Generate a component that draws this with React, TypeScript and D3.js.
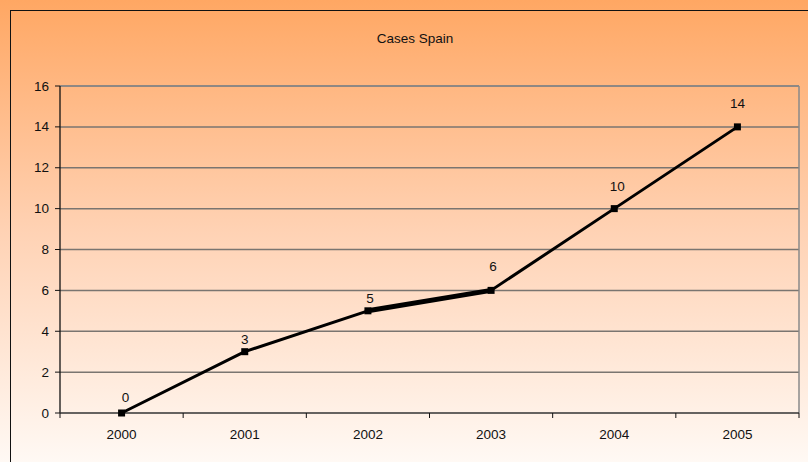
import React from "react";
import * as d3 from "d3";

const categories = ["2000", "2001", "2002", "2003", "2004", "2005"];
const cases = [0, 3, 5, 6, 10, 14];
const yTicks = [0, 2, 4, 6, 8, 10, 12, 14, 16];
const title = "Cases Spain";

const W = 808;
const H = 462;
const plot = { left: 60, top: 86, right: 799, bottom: 413 };
const font = "'Liberation Sans', Arial, Helvetica, sans-serif";
const FS = 13.5;
// label placement above each point (px), as seen in the reference
const labelLift = [11, 8, 8, 19, 18, 19];
const labelShift = [4, 0, 2, 2, 3, 0];

export default function App() {
  const x = d3.scaleBand<string>().domain(categories).range([plot.left, plot.right]).padding(0);
  const y = d3.scaleLinear().domain([0, 16]).range([plot.bottom, plot.top]);
  const cx = (c: string) => (x(c) as number) + x.bandwidth() / 2;
  const pts: [number, number][] = categories.map((c, i) => [cx(c), y(cases[i])]);
  const line = d3.line<[number, number]>().x((d) => d[0]).y((d) => d[1]);
  const boundaries = categories.map((c) => x(c) as number).concat([plot.right]);

  return (
    <svg width={W} height={H} style={{ position: "absolute", left: 0, top: 0, display: "block" }} fontFamily={font}>
      <defs>
        <linearGradient id="bg" x1="0" y1="0" x2="0" y2="1">
          <stop offset="0" stopColor="#FFA763" />
          <stop offset="0.5" stopColor="#FFD2B4" />
          <stop offset="1" stopColor="#FFF9F4" />
        </linearGradient>
      </defs>
      <rect x={0} y={0} width={W} height={H} fill="url(#bg)" />
      <rect x={10.5} y={10.5} width={W + 20} height={H + 20} fill="none" stroke="#111" strokeWidth={1} />
      <text x={415} y={43} textAnchor="middle" fontSize={FS} fill="#111">{title}</text>

      {/* gridlines */}
      {yTicks.filter((t) => t > 0).map((t) => (
        <line key={t} x1={plot.left} x2={plot.right} y1={y(t)} y2={y(t)} stroke="#7a7570" strokeWidth={1.5} />
      ))}
      <line x1={plot.right} x2={plot.right} y1={plot.top} y2={plot.bottom} stroke="#8a8a8a" strokeWidth={1.5} />
      <line x1={plot.left} x2={plot.right} y1={plot.top} y2={plot.top} stroke="#8a8a8a" strokeWidth={1.5} />

      {/* y axis */}
      <line x1={plot.left} x2={plot.left} y1={plot.top} y2={plot.bottom} stroke="#111" strokeWidth={1.3} />
      {yTicks.map((t) => (
        <g key={t}>
          <line x1={plot.left - 5} x2={plot.left} y1={y(t)} y2={y(t)} stroke="#111" strokeWidth={1} />
          <text x={49} y={y(t) + 4.5} textAnchor="end" fontSize={FS} fill="#111">{t}</text>
        </g>
      ))}

      {/* x axis */}
      <line x1={plot.left} x2={plot.right} y1={plot.bottom} y2={plot.bottom} stroke="#333" strokeWidth={1.5} />
      {boundaries.map((b, i) => (
        <line key={i} x1={b} x2={b} y1={plot.bottom} y2={plot.bottom + 5} stroke="#111" strokeWidth={1} />
      ))}
      {categories.map((c) => (
        <text key={c} x={cx(c)} y={439} textAnchor="middle" fontSize={FS} fill="#111">{c}</text>
      ))}

      {/* series line */}
      <path d={line(pts) || ""} fill="none" stroke="#000" strokeWidth={3} strokeLinejoin="round" />
      <path d={line(pts.slice(2, 4)) || ""} fill="none" stroke="#000" strokeWidth={5} />
      {pts.map((p, i) => (
        <rect key={i} x={p[0] - 3.5} y={p[1] - 3.5} width={7} height={7} fill="#000" />
      ))}
      {pts.map((p, i) => (
        <text key={"l" + i} x={p[0] + labelShift[i]} y={p[1] - labelLift[i]} textAnchor="middle" fontSize={FS} fill="#111">{cases[i]}</text>
      ))}
    </svg>
  );
}
